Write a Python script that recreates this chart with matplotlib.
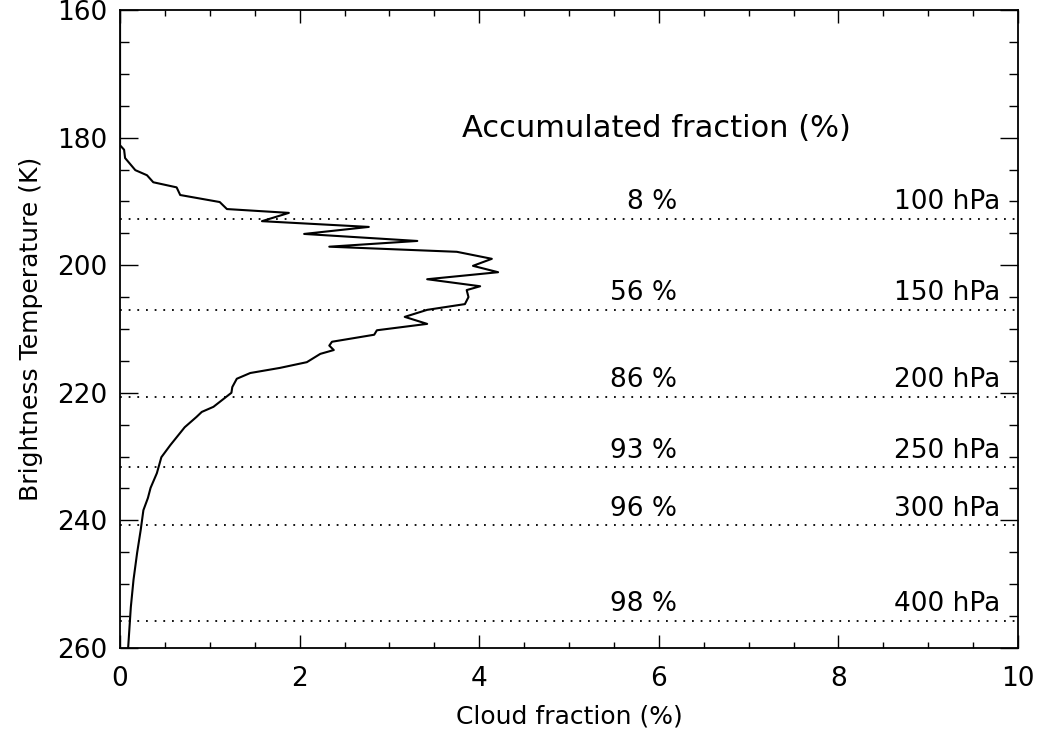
import matplotlib
matplotlib.use("Agg")
import matplotlib.pyplot as plt
from matplotlib.ticker import MultipleLocator

# profil de fraction nuageuse en fonction de la température de brillance
temperature = [160.0, 181.2, 181.9, 183.2, 185.1, 185.9, 187.0, 187.8, 189.0, 190.1,
               191.2, 191.8, 193.1, 194.0, 195.1, 196.2, 197.1, 197.9, 199.0, 200.1,
               201.1, 202.2, 203.3, 203.9, 205.0, 206.1, 207.0, 208.1, 209.2, 210.2,
               210.9, 212.0, 212.6, 213.3, 213.9, 215.2, 216.1, 216.9, 217.8, 219.1,
               220.0, 222.2, 223.0, 223.8, 225.4, 228.2, 230.1, 232.6, 234.9, 236.5,
               238.4, 241.5, 245.1, 249.3, 253.6, 260.0]
fraction = [0.0, 0.0, 0.045, 0.056, 0.17, 0.30, 0.37, 0.63, 0.67, 1.11,
            1.19, 1.88, 1.58, 2.77, 2.05, 3.31, 2.33, 3.75, 4.14, 3.93,
            4.21, 3.42, 4.01, 3.86, 3.88, 3.84, 3.42, 3.17, 3.42, 2.86,
            2.83, 2.36, 2.33, 2.38, 2.23, 2.08, 1.78, 1.45, 1.30, 1.25,
            1.24, 1.04, 0.91, 0.85, 0.72, 0.56, 0.46, 0.41, 0.34, 0.31,
            0.26, 0.23, 0.19, 0.15, 0.12, 0.09]

# niveaux de pression et fractions cumulées
niveaux_T = [192.8, 207.0, 220.6, 231.7, 240.8, 255.8]
cumul = ["8 %", "56 %", "86 %", "93 %", "96 %", "98 %"]
pression = ["100 hPa", "150 hPa", "200 hPa", "250 hPa", "300 hPa", "400 hPa"]

plt.rcParams["font.family"] = "DejaVu Sans"

fig = plt.figure(figsize=(10.43, 7.36), dpi=100)
ax = fig.add_axes([0.1151, 0.1196, 0.8610, 0.8668])

ax.plot(fraction, temperature, color="black", lw=1.5)

for t, c, p in zip(niveaux_T, cumul, pression):
    ax.axhline(t, color="black", lw=1.3, linestyle=(0, (1, 3.8)))
    ax.text(6.2, t - 0.6, c, ha="right", va="bottom", fontsize=19)
    ax.text(9.8, t - 0.6, p, ha="right", va="bottom", fontsize=19)

ax.text(5.97, 178.6, "Accumulated fraction (%)", ha="center", va="center", fontsize=22)

ax.set_xlim(0, 10)
ax.set_ylim(260, 160)
ax.xaxis.set_major_locator(MultipleLocator(2))
ax.xaxis.set_minor_locator(MultipleLocator(0.5))
ax.yaxis.set_major_locator(MultipleLocator(20))
ax.yaxis.set_minor_locator(MultipleLocator(5))

ax.tick_params(axis="x", which="major", direction="in", length=9.2, width=1, top=True,
               labelsize=19, pad=13)
ax.tick_params(axis="x", which="minor", direction="in", length=4.6, width=1, top=True)
ax.tick_params(axis="y", which="major", direction="in", length=12.9, width=1, right=True,
               labelsize=19, pad=9)
ax.tick_params(axis="y", which="minor", direction="in", length=6.5, width=1, right=True)
for s in ax.spines.values():
    s.set_linewidth(1.3)

ax.set_xlabel("Cloud fraction (%)", fontsize=18, labelpad=9)
ax.set_ylabel("Brightness Temperature (K)", fontsize=18, labelpad=10)

fig.savefig("out.png", dpi=100)
